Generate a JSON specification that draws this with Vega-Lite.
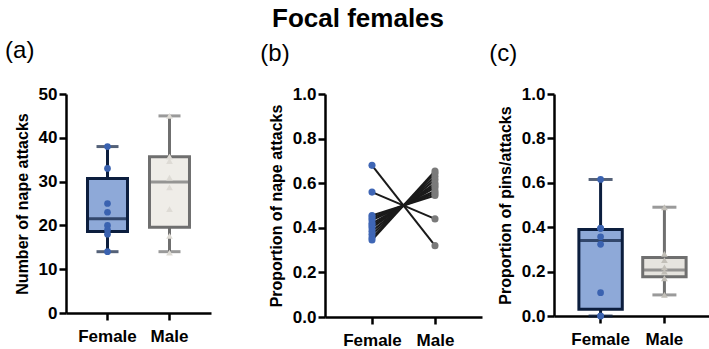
{
  "$schema": "https://vega.github.io/schema/vega-lite/v6.json",
  "padding": {"left": 5, "top": 6, "right": 0, "bottom": 0},
  "background": "white",
  "title": {"text": "Focal females", "fontSize": 26, "fontWeight": "bold", "font": "Liberation Sans", "anchor": "middle", "color": "black", "offset": 7},
  "datasets": {
    "statsA": [
      {"sex": "Female", "min": 14, "q1": 18.6, "median": 21.5, "q3": 30.7, "max": 38},
      {"sex": "Male", "min": 14, "q1": 19.6, "median": 29.9, "q3": 35.7, "max": 45}
    ],
    "pointsA": [
      {"sex": "Female", "value": 38}, {"sex": "Female", "value": 33}, {"sex": "Female", "value": 25}, {"sex": "Female", "value": 23},
      {"sex": "Female", "value": 20}, {"sex": "Female", "value": 19}, {"sex": "Female", "value": 18}, {"sex": "Female", "value": 14},
      {"sex": "Male", "value": 45}, {"sex": "Male", "value": 35.7}, {"sex": "Male", "value": 34.7}, {"sex": "Male", "value": 30.9},
      {"sex": "Male", "value": 28.7}, {"sex": "Male", "value": 23.7}, {"sex": "Male", "value": 17.6}, {"sex": "Male", "value": 13.8}
    ],
    "pairsB": [
      {"id": 1, "sex": "Female", "value": 0.68}, {"id": 1, "sex": "Male", "value": 0.32},
      {"id": 2, "sex": "Female", "value": 0.56}, {"id": 2, "sex": "Male", "value": 0.44},
      {"id": 3, "sex": "Female", "value": 0.455}, {"id": 3, "sex": "Male", "value": 0.545},
      {"id": 4, "sex": "Female", "value": 0.445}, {"id": 4, "sex": "Male", "value": 0.555},
      {"id": 5, "sex": "Female", "value": 0.435}, {"id": 5, "sex": "Male", "value": 0.565},
      {"id": 6, "sex": "Female", "value": 0.42}, {"id": 6, "sex": "Male", "value": 0.58},
      {"id": 7, "sex": "Female", "value": 0.41}, {"id": 7, "sex": "Male", "value": 0.59},
      {"id": 8, "sex": "Female", "value": 0.40}, {"id": 8, "sex": "Male", "value": 0.60},
      {"id": 9, "sex": "Female", "value": 0.385}, {"id": 9, "sex": "Male", "value": 0.615},
      {"id": 10, "sex": "Female", "value": 0.37}, {"id": 10, "sex": "Male", "value": 0.63},
      {"id": 11, "sex": "Female", "value": 0.355}, {"id": 11, "sex": "Male", "value": 0.645},
      {"id": 12, "sex": "Female", "value": 0.345}, {"id": 12, "sex": "Male", "value": 0.655}
    ],
    "statsC": [
      {"sex": "Female", "min": 0, "q1": 0.03, "median": 0.34, "q3": 0.39, "max": 0.615},
      {"sex": "Male", "min": 0.095, "q1": 0.177, "median": 0.207, "q3": 0.264, "max": 0.49}
    ],
    "pointsC": [
      {"sex": "Female", "value": 0.615}, {"sex": "Female", "value": 0.395}, {"sex": "Female", "value": 0.395}, {"sex": "Female", "value": 0.357},
      {"sex": "Female", "value": 0.323}, {"sex": "Female", "value": 0.105}, {"sex": "Female", "value": 0}, {"sex": "Female", "value": 0},
      {"sex": "Male", "value": 0.49}, {"sex": "Male", "value": 0.28}, {"sex": "Male", "value": 0.252}, {"sex": "Male", "value": 0.219},
      {"sex": "Male", "value": 0.2}, {"sex": "Male", "value": 0.17}, {"sex": "Male", "value": 0.095}
    ]
  },
  "spacing": 49,
  "resolve": {"scale": {"color": "independent", "fill": "independent", "stroke": "independent", "shape": "independent"}},
  "hconcat": [
    {
      "width": 145, "height": 219,
      "title": {"text": "(a)", "anchor": "start", "frame": "bounds", "fontSize": 24, "fontWeight": "normal", "offset": 22, "dx": -9},
      "layer": [
        {
          "data": {"name": "statsA"},
          "mark": {"type": "rule", "strokeWidth": 3},
          "encoding": {
            "x": {"field": "sex", "type": "nominal", "scale": {"type": "band", "paddingInner": 0.355, "paddingOuter": 0.347}, "axis": {"title": null}},
            "y": {"field": "min", "type": "quantitative", "scale": {"domain": [0, 50]}, "axis": {"title": "Number of nape attacks", "values": [0, 10, 20, 30, 40, 50]}},
            "y2": {"field": "max"},
            "stroke": {"field": "sex", "type": "nominal", "scale": {"domain": ["Female", "Male"], "range": ["#0c1e3e", "#6f6f6f"]}, "legend": null}
          }
        },
        {
          "data": {"name": "statsA"},
          "mark": {"type": "bar", "strokeWidth": 3},
          "encoding": {
            "x": {"field": "sex", "type": "nominal"},
            "y": {"field": "q1", "type": "quantitative"},
            "y2": {"field": "q3"},
            "fill": {"field": "sex", "type": "nominal", "scale": {"domain": ["Female", "Male"], "range": ["#8ea9d8", "#efede8"]}, "legend": null},
            "stroke": {"field": "sex", "type": "nominal", "legend": null}
          }
        },
        {
          "data": {"name": "statsA"},
          "mark": {"type": "tick", "thickness": 3, "size": 38},
          "encoding": {
            "x": {"field": "sex", "type": "nominal"},
            "y": {"field": "median", "type": "quantitative"},
            "color": {"field": "sex", "type": "nominal", "scale": {"domain": ["Female", "Male"], "range": ["#0c1e3e", "#6f6f6f"]}, "legend": null}
          }
        },
        {
          "data": {"name": "statsA"},
          "mark": {"type": "tick", "thickness": 3, "size": 22},
          "encoding": {
            "x": {"field": "sex", "type": "nominal"},
            "y": {"field": "min", "type": "quantitative"},
            "color": {"field": "sex", "type": "nominal", "legend": null}
          }
        },
        {
          "data": {"name": "statsA"},
          "mark": {"type": "tick", "thickness": 3, "size": 22},
          "encoding": {
            "x": {"field": "sex", "type": "nominal"},
            "y": {"field": "max", "type": "quantitative"},
            "color": {"field": "sex", "type": "nominal", "legend": null}
          }
        },
        {
          "data": {"name": "pointsA"},
          "mark": {"type": "point", "filled": true, "opacity": 1, "size": 45},
          "encoding": {
            "x": {"field": "sex", "type": "nominal"},
            "y": {"field": "value", "type": "quantitative"},
            "shape": {"field": "sex", "type": "nominal", "scale": {"domain": ["Female", "Male"], "range": ["circle", "triangle-up"]}, "legend": null},
            "fill": {"field": "sex", "type": "nominal", "scale": {"domain": ["Female", "Male"], "range": ["#3a62b0", "#dedbd5"]}, "legend": null}
          }
        }
      ],
      "resolve": {"scale": {"fill": "independent"}}
    },
    {
      "spacing": 7,
      "resolve": {"scale": {"color": "independent", "fill": "independent", "stroke": "independent", "shape": "independent"}},
      "hconcat": [
        {
          "width": 157, "height": 223,
          "title": {"text": "(b)", "anchor": "start", "frame": "bounds", "fontSize": 24, "fontWeight": "normal", "offset": 19, "dx": -8},
          "layer": [
            {
              "mark": {"type": "rule", "strokeDash": [2.5, 3.5], "strokeWidth": 3, "color": "#111"},
              "encoding": {"y": {"datum": 0.5, "type": "quantitative"}}
            },
            {
              "data": {"name": "pairsB"},
              "mark": {"type": "line", "color": "#1a1a1a", "strokeWidth": 2},
              "encoding": {
                "x": {"field": "sex", "type": "nominal", "scale": {"type": "point", "padding": 0.746}, "axis": {"title": null}},
                "y": {"field": "value", "type": "quantitative", "scale": {"domain": [0, 1]}, "axis": {"title": "Proportion of nape attacks", "values": [0, 0.2, 0.4, 0.6, 0.8, 1.0], "format": ".1f"}},
                "detail": {"field": "id", "type": "nominal"}
              }
            },
            {
              "data": {"name": "pairsB"},
              "mark": {"type": "circle", "opacity": 1, "size": 50},
              "encoding": {
                "x": {"field": "sex", "type": "nominal"},
                "y": {"field": "value", "type": "quantitative"},
                "color": {"field": "sex", "type": "nominal", "scale": {"domain": ["Female", "Male"], "range": ["#3f66b5", "#7a7a7a"]}, "legend": null}
              }
            }
          ]
        },
        {
          "width": 157, "height": 222,
          "title": {"text": "(c)", "anchor": "start", "frame": "bounds", "fontSize": 24, "fontWeight": "normal", "offset": 19, "dx": -8},
          "layer": [
            {
              "data": {"name": "statsC"},
              "mark": {"type": "rule", "strokeWidth": 3},
              "encoding": {
                "x": {"field": "sex", "type": "nominal", "scale": {"type": "band", "paddingInner": 0.32, "paddingOuter": 0.39}, "axis": {"title": null}},
                "y": {"field": "min", "type": "quantitative", "scale": {"domain": [0, 1]}, "axis": {"title": "Proportion of pins/attacks", "values": [0, 0.2, 0.4, 0.6, 0.8, 1.0], "format": ".1f"}},
                "y2": {"field": "max"},
                "stroke": {"field": "sex", "type": "nominal", "scale": {"domain": ["Female", "Male"], "range": ["#0c1e3e", "#6f6f6f"]}, "legend": null}
              }
            },
            {
              "data": {"name": "statsC"},
              "mark": {"type": "bar", "strokeWidth": 3},
              "encoding": {
                "x": {"field": "sex", "type": "nominal"},
                "y": {"field": "q1", "type": "quantitative"},
                "y2": {"field": "q3"},
                "fill": {"field": "sex", "type": "nominal", "scale": {"domain": ["Female", "Male"], "range": ["#8ea9d8", "#e6e4df"]}, "legend": null},
                "stroke": {"field": "sex", "type": "nominal", "legend": null}
              }
            },
            {
              "data": {"name": "statsC"},
              "mark": {"type": "tick", "thickness": 3, "size": 41},
              "encoding": {
                "x": {"field": "sex", "type": "nominal"},
                "y": {"field": "median", "type": "quantitative"},
                "color": {"field": "sex", "type": "nominal", "scale": {"domain": ["Female", "Male"], "range": ["#0c1e3e", "#6f6f6f"]}, "legend": null}
              }
            },
            {
              "data": {"name": "statsC"},
              "mark": {"type": "tick", "thickness": 3, "size": 24},
              "encoding": {
                "x": {"field": "sex", "type": "nominal"},
                "y": {"field": "min", "type": "quantitative"},
                "color": {"field": "sex", "type": "nominal", "legend": null}
              }
            },
            {
              "data": {"name": "statsC"},
              "mark": {"type": "tick", "thickness": 3, "size": 24},
              "encoding": {
                "x": {"field": "sex", "type": "nominal"},
                "y": {"field": "max", "type": "quantitative"},
                "color": {"field": "sex", "type": "nominal", "legend": null}
              }
            },
            {
              "data": {"name": "pointsC"},
              "mark": {"type": "point", "filled": true, "opacity": 1, "size": 45},
              "encoding": {
                "x": {"field": "sex", "type": "nominal"},
                "y": {"field": "value", "type": "quantitative"},
                "shape": {"field": "sex", "type": "nominal", "scale": {"domain": ["Female", "Male"], "range": ["circle", "triangle-up"]}, "legend": null},
                "fill": {"field": "sex", "type": "nominal", "scale": {"domain": ["Female", "Male"], "range": ["#3a62b0", "#c2bfb8"]}, "legend": null}
              }
            }
          ],
          "resolve": {"scale": {"fill": "independent"}}
        }
      ]
    }
  ],
  "config": {
    "font": "Liberation Sans",
    "view": {"stroke": null},
    "title": {"color": "black", "font": "Liberation Sans"},
    "axis": {
      "grid": false,
      "domainColor": "black", "domainWidth": 2.5,
      "tickColor": "black", "tickWidth": 2.5, "tickSize": 7,
      "labelFont": "Liberation Sans", "labelFontWeight": "bold", "labelFontSize": 17, "labelColor": "black", "labelPadding": 2,
      "titleFont": "Liberation Sans", "titleFontWeight": "bold", "titleFontSize": 16, "titleColor": "black", "titlePadding": 8
    },
    "axisX": {"labelAngle": 0, "labelFontSize": 17, "labelPadding": 8, "labelOverlap": false},
    "axisY": {"labelOverlap": false}
  }
}
